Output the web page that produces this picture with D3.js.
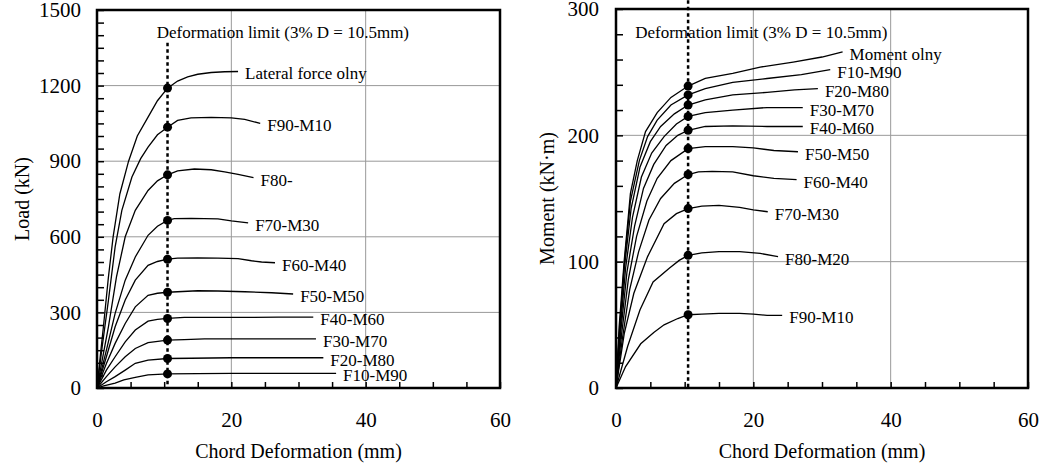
<!DOCTYPE html>
<html>
<head>
<meta charset="utf-8">
<style>
    body { margin: 0; background: white; }
    svg { display: block; font-family: "Liberation Serif", "DejaVu Serif", serif; }
    .grid line { stroke: #999; stroke-width: 1; }
    .curve { fill: none; stroke: black; stroke-width: 1.3px; }
    .frame { fill: none; stroke: black; stroke-width: 2.5px; }
    .limit { stroke: black; stroke-width: 2.5px; stroke-dasharray: 3.5 3; }
    .axis path { display: none; }
    .axis line { stroke: black; stroke-width: 1.5px; }
    .axis text { font-family: "Liberation Serif", serif; font-size: 21px; fill: black; }
    .lbl { font-size: 17px; }
    .title { font-size: 20px; }
</style>
</head>
<body>
<svg width="1044" height="470"></svg>
<script src="https://d3js.org/d3.v7.min.js"></script>
<script>
    // deformation limit: 3% of D = 10.5 mm
    var limitX = 10.5;
    var xTicks = d3.range(0, 61, 5);

    // Left panel: load (kN) vs chord deformation (mm)
    var loadNames = ['Lateral force olny', 'F90-M10', 'F80-', 'F70-M30', 'F60-M40',
                     'F50-M50', 'F40-M60', 'F30-M70', 'F20-M80', 'F10-M90'];
    var loadCurves = [
        [[0,0],[0.5,130],[1,255],[1.7,440],[2.4,600],[3.4,770],[4.7,900],[6,1000],[7.6,1075],[9,1140],[10.5,1190],[12,1218],[13.5,1235],[15,1245],[17,1252],[19,1255],[21,1256]],
        [[0,0],[0.8,170],[1.7,348],[2.7,560],[3.7,705],[5.2,837],[6.5,910],[7.6,956],[9,1005],[10.5,1035],[12,1062],[14,1072],[17,1074],[20,1072],[22,1066],[24.3,1050]],
        [[0,0],[0.8,115],[1.7,243],[2.9,441],[4.2,600],[5.7,705],[7.6,784],[9,822],[10.5,846],[12,862],[14.5,869],[17,866],[19,858],[21,848],[23.3,835]],
        [[0,0],[0.7,75],[1.4,150],[2.7,296],[4.2,428],[5.7,520],[7.6,606],[9,642],[10.5,665],[11.5,672],[14,673],[18,671],[20,663],[22.5,655]],
        [[0,0],[1.4,124],[2.7,243],[4.2,349],[5.7,428],[7.6,487],[9,502],[10.5,511],[12,515],[15,516],[18,515],[21,513],[23,505],[24.5,500],[26.5,497]],
        [[0,0],[1.4,97],[2.7,177],[4.2,256],[5.7,322],[7.6,368],[9,376],[10.5,380],[12,382],[15,386],[18,385],[22,382],[26,378],[29.2,373]],
        [[0,0],[1.4,71],[2.7,124],[4.2,183],[5.7,230],[7.6,265],[9,272],[10.5,276],[13,280],[20,280],[27,281],[32.2,281]],
        [[0,0],[1.4,45],[2.7,84],[4.2,124],[5.7,157],[7.6,180],[10.5,190],[13,192],[16,195],[25,195],[32.6,195]],
        [[0,0],[1.4,25],[2.7,45],[4.2,71],[5.7,98],[7.6,111],[10.5,117],[14,118],[20,120],[33.7,120]],
        [[0,0],[1,8],[2.7,19],[4,32],[5.7,42],[7.6,52],[10.5,56],[15,57],[20,58],[35.6,58]]
    ];

    // Right panel: moment (kN·m) vs chord deformation (mm)
    var momentNames = ['Moment olny', 'F10-M90', 'F20-M80', 'F30-M70', 'F40-M60',
                       'F50-M50', 'F60-M40', 'F70-M30', 'F80-M20', 'F90-M10'];
    var momentCurves = [
        [[0,0],[0.45,48],[1.2,101],[2.1,154],[3.1,180],[4.3,203],[6,218],[8,230],[10.5,239],[13,245],[17,249],[21,254],[25.8,258],[30,262],[33,266]],
        [[0,0],[0.5,45],[1.2,98],[2.1,148],[3.4,180],[4.6,199],[6,212],[8,224],[10.5,232],[13,237],[17,242],[22,245],[27,248],[31.2,252]],
        [[0,0],[0.5,42],[1.2,94],[2.2,142],[3.5,175],[5,195],[6.5,207],[8.5,217],[10.5,224],[13,228],[17,232],[22,234],[26,236],[29.4,237]],
        [[0,0],[0.6,45],[1.4,95],[2.4,135],[3.7,167],[5.2,186],[7,199],[8.8,209],[10.5,215],[13,218],[17,220],[22,222],[27.2,222]],
        [[0,0],[0.7,45],[1.6,92],[2.7,128],[4,158],[5.5,177],[7.3,192],[9,200],[10.5,204],[13,207],[17,207.5],[22,207],[27.2,207]],
        [[0,0],[0.8,42],[1.8,86],[3,120],[4.5,148],[6,166],[8,180],[10.5,189.5],[13,191],[17,191],[20,190],[23,188],[26.5,187]],
        [[0,0],[0.9,38],[2,78],[3.3,108],[4.8,133],[6.5,150],[8.5,162],[10.5,169],[12,171],[14,171.5],[17,171],[20,168],[23,166],[26.3,165]],
        [[0,0],[1.2,43],[2.6,75],[4.6,104],[7,130],[8.8,138],[10.5,142],[12.5,144],[15,144.5],[18,143],[20,141],[22.1,139.5]],
        [[0,0],[1.7,33],[3.5,62],[5.4,84],[7.8,95],[9.2,101],[10.5,105],[12.5,107],[15,108],[18,108],[21,106.5],[23.6,104]],
        [[0,0],[1.4,17],[3.6,35],[5.5,44],[7,50],[9,55],[10.5,58],[12.5,58.5],[15,59],[18,59],[20,58.5],[22,57.5],[24.2,57.5]]
    ];

    var svg = d3.select('svg');

    var panels = [
        { names: loadNames, curves: loadCurves, left: 97, right: 500, top: 10, bottom: 388,
          yMax: 1500, yMajor: 300, yMinor: 50, yTitle: 'Load (kN)', yTitleX: 29, limitTop: 1370,
          annX: 8.9, annY: 1390, pad: 16 },
        { names: momentNames, curves: momentCurves, left: 616, right: 1028, top: 9, bottom: 388,
          yMax: 300, yMajor: 100, yMinor: 20, yTitle: 'Moment (kN\u00b7m)', yTitleX: 554, limitTop: 307,
          annX: 2.8, annY: 277, pad: 17 }
    ];

    panels.forEach(function (p) {
        var x = d3.scaleLinear().domain([0, 60]).range([p.left, p.right]);
        var y = d3.scaleLinear().domain([0, p.yMax]).range([p.bottom, p.top]);
        var g = svg.append('g');

        // grid at major ticks
        var grid = g.append('g').attr('class', 'grid');
        grid.selectAll('.gx').data([20, 40]).enter().append('line')
            .attr('x1', x).attr('x2', x).attr('y1', y(0)).attr('y2', y(p.yMax));
        grid.selectAll('.gy').data(d3.range(p.yMajor, p.yMax, p.yMajor)).enter().append('line')
            .attr('x1', x(0)).attr('x2', x(60)).attr('y1', y).attr('y2', y);

        // axes with inward ticks
        g.append('g').attr('class', 'axis')
            .attr('transform', 'translate(0,' + p.bottom + ')')
            .call(d3.axisBottom(x).tickValues(xTicks).tickSize(-6).tickPadding(24)
                .tickFormat(function (d) { return d % 20 === 0 ? d : ''; }))
            .attr('font-family', null).attr('font-size', null);
        g.append('g').attr('class', 'axis')
            .attr('transform', 'translate(' + p.left + ',0)')
            .call(d3.axisLeft(y).tickValues(d3.range(0, p.yMax + 1, p.yMinor)).tickSize(-7).tickPadding(p.pad)
                .tickFormat(function (d) { return d % p.yMajor === 0 ? d : ''; }))
            .attr('font-family', null).attr('font-size', null);

        // deformation limit
        g.append('line').attr('class', 'limit')
            .attr('x1', x(limitX)).attr('x2', x(limitX))
            .attr('y1', y(p.limitTop)).attr('y2', y(0));
        g.append('text').attr('class', 'lbl')
            .attr('x', x(p.annX)).attr('y', y(p.annY))
            .text('Deformation limit (3% D = 10.5mm)');

        // curves
        var line = d3.line().x(function (d) { return x(d[0]); }).y(function (d) { return y(d[1]); });
        g.selectAll('.curve').data(p.curves).enter().append('path')
            .attr('class', 'curve').attr('d', line);

        // points at the limit
        g.selectAll('.dot').data(p.curves).enter().append('circle')
            .attr('r', 4.5)
            .attr('cx', x(limitX))
            .attr('cy', function (c) {
                return y(c.filter(function (d) { return d[0] === limitX; })[0][1]);
            });

        // curve labels at the curve ends
        g.selectAll('.name').data(p.curves).enter().append('text')
            .attr('class', 'lbl')
            .attr('x', function (c) { return x(c[c.length - 1][0]) + 7; })
            .attr('y', function (c) { return y(c[c.length - 1][1]) + 8; })
            .text(function (c, i) { return p.names[i]; });

        // frame
        g.append('rect').attr('class', 'frame')
            .attr('x', p.left).attr('y', p.top)
            .attr('width', p.right - p.left).attr('height', p.bottom - p.top);

        // titles
        g.append('text').attr('class', 'title')
            .attr('text-anchor', 'middle')
            .attr('x', (p.left + p.right) / 2).attr('y', 458)
            .text('Chord Deformation (mm)');
        g.append('text').attr('class', 'title')
            .attr('text-anchor', 'middle')
            .attr('transform', 'translate(' + p.yTitleX + ',' + ((p.top + p.bottom) / 2) + ') rotate(-90)')
            .text(p.yTitle);
    });
</script>
</body>
</html>
